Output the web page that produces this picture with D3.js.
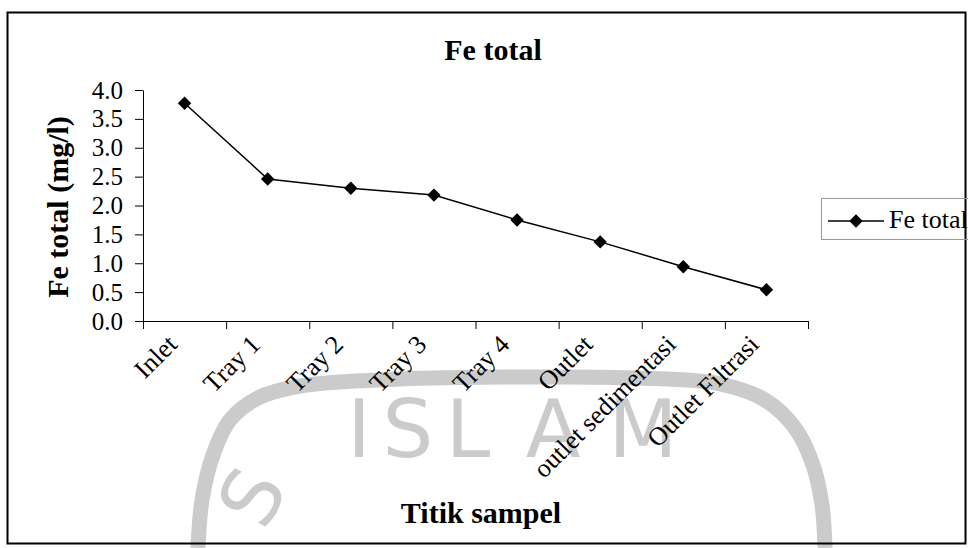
<!DOCTYPE html>
<html><head><meta charset="utf-8">
<script src="https://cdn.jsdelivr.net/npm/d3@7"></script>
<style>body{margin:0;background:#fff}svg{display:block}</style>
</head><body>
<script>
// ---- data ----
const categories = ["Inlet", "Tray 1", "Tray 2", "Tray 3", "Tray 4", "Outlet", "outlet sedimentasi", "Outlet Filtrasi"];
const feTotal = [3.77, 2.46, 2.30, 2.18, 1.75, 1.37, 0.94, 0.54];
const yTicks = [0.0, 0.5, 1.0, 1.5, 2.0, 2.5, 3.0, 3.5, 4.0];
const seriesName = "Fe total";
const chartTitle = "Fe total";
const yTitle = "Fe total (mg/l)";
const xTitle = "Titik sampel";
const watermarkWord = ["I", "S", "L", "A", "M"];

// ---- layout ----
const W = 968, H = 548;
const plot = {left: 143, right: 808, top: 90, bottom: 321};
const serif = "'Liberation Serif','Times New Roman',serif";
const gray = "#cbcbcb";

const svg = d3.select("body").append("svg").attr("width", W).attr("height", H);
svg.append("rect").attr("width", W).attr("height", H).attr("fill", "#fff");

// ---- faint scanned watermark ----
const wm = svg.append("g");
const ringPts = [[198,548],[202,500],[213,455],[230,420],[258,398],[300,386],[400,379],[520,377],[640,378],[720,384],[765,400],[795,428],[813,465],[822,505],[825,548]];
wm.append("path").attr("d", d3.line().curve(d3.curveCatmullRom)(ringPts))
  .attr("fill", "none").attr("stroke", gray).attr("stroke-width", 15);
const wmX = [359, 408, 468, 553, 643];
wm.selectAll("text.wm").data(watermarkWord).join("text")
  .attr("x", (d, i) => wmX[i]).attr("y", 457)
  .attr("text-anchor", "middle")
  .attr("font-family", "'DejaVu Sans',sans-serif").attr("font-size", 80)
  .attr("fill", gray).text(d => d);
wm.append("text").attr("transform", "translate(252,497) rotate(-62)")
  .attr("text-anchor", "middle").attr("dy", "0.35em")
  .attr("font-family", "'DejaVu Sans',sans-serif").attr("font-size", 80)
  .attr("fill", gray).text("S");

// ---- outer frame ----
svg.append("rect").attr("x", 7.5).attr("y", 12.5).attr("width", 958).attr("height", 531)
  .attr("fill", "none").attr("stroke", "#000").attr("stroke-width", 2);

// ---- scales ----
const x = d3.scaleBand().domain(categories).range([plot.left, plot.right]).padding(0);
const y = d3.scaleLinear().domain([0, 4]).range([plot.bottom, plot.top]);

// ---- axes ----
const yAxis = svg.append("g").attr("transform", `translate(${plot.left},0)`)
  .call(d3.axisLeft(y).tickValues(yTicks).tickFormat(d3.format(".1f")).tickSizeInner(8).tickSizeOuter(0).tickPadding(12));
yAxis.selectAll("text").attr("font-family", serif).attr("font-size", 25).attr("fill", "#000");
yAxis.selectAll("line,path").attr("stroke", "#000");

const bounds = categories.map(c => x(c)).concat([plot.right]);
const xAxis = svg.append("g").attr("transform", `translate(0,${plot.bottom})`);
xAxis.append("path").attr("d", `M${plot.left},0.5H${plot.right}`).attr("stroke", "#000");
xAxis.selectAll("line.tk").data(bounds).join("line").attr("class", "tk")
  .attr("x1", d => d + 0.5).attr("x2", d => d + 0.5).attr("y1", 0).attr("y2", 8).attr("stroke", "#000");
xAxis.selectAll("text.lab").data(categories).join("text").attr("class", "lab")
  .attr("transform", d => `translate(${x(d) + x.bandwidth() / 2 - 6},25) rotate(-45)`)
  .attr("text-anchor", "end")
  .attr("font-family", serif).attr("font-size", 26).attr("fill", "#000").text(d => d);

// ---- series ----
const pts = categories.map((c, i) => [x(c) + x.bandwidth() / 2, y(feTotal[i])]);
svg.append("path").attr("d", d3.line()(pts)).attr("fill", "none").attr("stroke", "#000").attr("stroke-width", 1.5);
const diamond = d3.symbol().type(d3.symbolSquare).size(90);
svg.selectAll("path.mk").data(pts).join("path").attr("class", "mk")
  .attr("d", diamond).attr("transform", d => `translate(${d[0]},${d[1]}) rotate(45)`).attr("fill", "#000");

// ---- titles ----
svg.append("text").attr("x", 493).attr("y", 60).attr("text-anchor", "middle")
  .attr("font-family", serif).attr("font-weight", "bold").attr("font-size", 30).text(chartTitle);
svg.append("text").attr("transform", "translate(68,207) rotate(-90)").attr("text-anchor", "middle")
  .attr("font-family", serif).attr("font-weight", "bold").attr("font-size", 30).text(yTitle);
svg.append("text").attr("x", 481).attr("y", 523).attr("text-anchor", "middle")
  .attr("font-family", serif).attr("font-weight", "bold").attr("font-size", 30).text(xTitle);

// ---- legend ----
const lg = svg.append("g");
lg.append("rect").attr("x", 821.5).attr("y", 198.5).attr("width", 170).attr("height", 41)
  .attr("fill", "none").attr("stroke", "#999");
lg.append("line").attr("x1", 828).attr("x2", 884).attr("y1", 221).attr("y2", 221).attr("stroke", "#000").attr("stroke-width", 1.5);
lg.append("path").attr("d", diamond).attr("transform", "translate(856,221) rotate(45)").attr("fill", "#000");
lg.append("text").attr("x", 889).attr("y", 228).attr("font-family", serif).attr("font-size", 26).text(seriesName);
</script>
</body></html>
